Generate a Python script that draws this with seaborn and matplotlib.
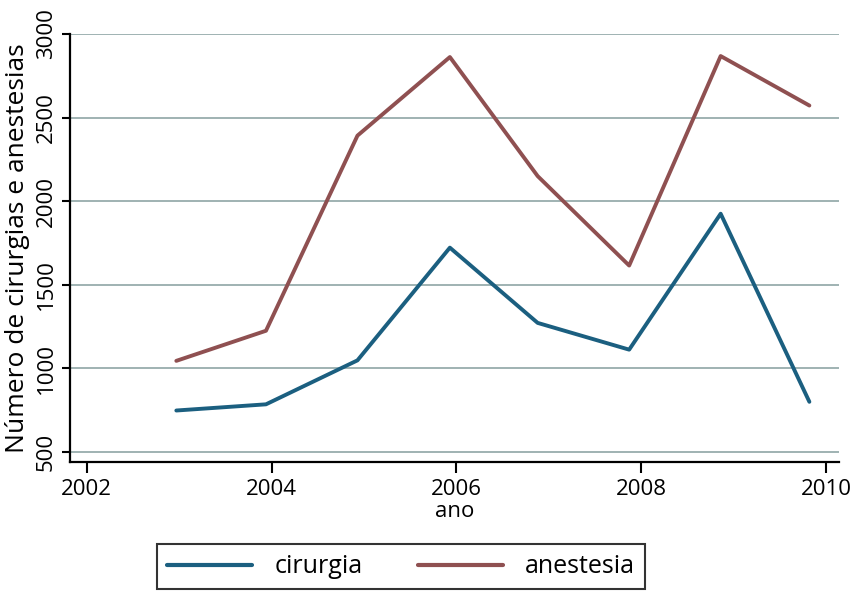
import pandas as pd
import seaborn as sns
import matplotlib.pyplot as plt

# valores
anos = [2002.97, 2003.94, 2004.93, 2005.93, 2006.88, 2007.87, 2008.86, 2009.82]
cirurgia = [748, 785, 1048, 1722, 1272, 1112, 1925, 800]
anestesia = [1045, 1225, 2392, 2862, 2150, 1615, 2868, 2572]

cor_cirurgia = '#1b5f80'
cor_anestesia = '#8f5051'
cor_grade = '#8fa5a6'

df = pd.DataFrame({'ano': anos + anos,
                   'valor': cirurgia + anestesia,
                   'serie': ['cirurgia'] * len(anos) + ['anestesia'] * len(anos)})

sns.set_style('white')
plt.rcParams['font.family'] = ['Open Sans', 'DejaVu Sans']
plt.rcParams['text.color'] = 'black'
plt.rcParams['axes.labelcolor'] = 'black'

fig = plt.figure(figsize=(8.5, 5.93), dpi=100)
ax = fig.add_axes([0.0824, 0.2209, 0.9046, 0.7218])

sns.lineplot(data=df, x='ano', y='valor', hue='serie',
             palette={'cirurgia': cor_cirurgia, 'anestesia': cor_anestesia},
             linewidth=2.8, ax=ax, legend=False)

ax.set_xlim(2001.82, 2010.14)
ax.set_ylim(440, 3000)
ax.set_xticks([2002, 2004, 2006, 2008, 2010])
ax.set_yticks([500, 1000, 1500, 2000, 2500, 3000])
for y in [500, 1000, 1500, 2000, 2500, 3000]:
    ax.axhline(y, color=cor_grade, linewidth=1.2, zorder=0)

ax.spines['top'].set_visible(False)
ax.spines['right'].set_visible(False)
for s in ['left', 'bottom']:
    ax.spines[s].set_linewidth(1.6)
    ax.spines[s].set_color('black')

ax.tick_params(axis='both', direction='out', length=6, width=1.5,
               labelsize=16, colors='black', left=True, bottom=True)
ax.tick_params(axis='x', length=8, pad=4)
plt.setp(ax.get_yticklabels(), rotation=90, va='center')

ax.set_xlabel('ano', fontsize=16, labelpad=1)
ax.set_ylabel('Número de cirurgias e anestesias', fontsize=19, labelpad=4)

handles = [plt.Line2D([], [], color=cor_cirurgia, linewidth=3),
           plt.Line2D([], [], color=cor_anestesia, linewidth=3)]
leg = fig.legend(handles, ['cirurgia', 'anestesia'], loc='center',
                 bbox_to_anchor=(0.472, 0.044), ncol=2, fontsize=18,
                 handlelength=3.4, handletextpad=0.9, columnspacing=2.2,
                 frameon=True, fancybox=False, borderpad=0.4)
leg.get_frame().set_edgecolor('black')
leg.get_frame().set_linewidth(1.5)

plt.savefig('out.png', dpi=100)
plt.close()
